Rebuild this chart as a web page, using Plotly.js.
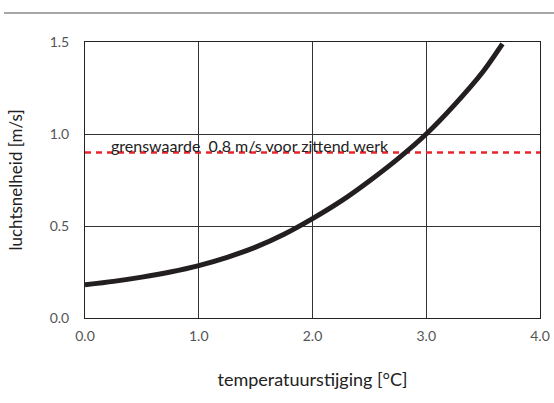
<!DOCTYPE html>
<html>
<head>
<meta charset="utf-8">
<script src="https://cdn.plot.ly/plotly-3.0.1.min.js"></script>
<style>html,body{margin:0;padding:0;background:#fff;}#chart{width:554px;height:403px;}</style>
</head>
<body>
<div id="chart"></div>
<script>
// Temperature rise [°C] vs air velocity [m/s]
const temperatureRise = [0.0, 0.25, 0.5, 0.75, 1.0, 1.25, 1.5, 1.75, 2.0, 2.25, 2.5, 2.75, 3.0, 3.25, 3.5, 3.67];
const airVelocity     = [0.18, 0.199, 0.222, 0.25, 0.285, 0.33, 0.385, 0.455, 0.54, 0.635, 0.745, 0.865, 1.00, 1.16, 1.34, 1.49];
const limitX = [0, 4];
const limitY = [0.9, 0.9];
const limitLabel = "grenswaarde  0.8 m/s voor zittend werk";
const xTicks = [0, 1, 2, 3, 4];
const xTickText = ["0.0", "1.0", "2.0", "3.0", "4.0"];
const yTicks = [0, 0.5, 1.0, 1.5];
const yTickText = ["0.0", "0.5", "1.0", "1.5"];

const fontFam = "Lato, 'Open Sans', sans-serif";

const traces = [
  {x: limitX, y: limitY, mode: "lines", line: {color: "#e8242c", width: 2.5, dash: "6px,5px"}, hoverinfo: "skip", showlegend: false},
  {x: temperatureRise, y: airVelocity, mode: "lines", line: {color: "#231f20", width: 5, shape: "spline", smoothing: 0.8}, showlegend: false}
];

const layout = {
  width: 554, height: 403,
  margin: {l: 85, r: 14, t: 42, b: 85},
  paper_bgcolor: "#fff", plot_bgcolor: "#fff",
  showlegend: false,
  font: {family: fontFam, color: "#222"},
  xaxis: {
    range: [0, 4], tickvals: xTicks, ticktext: xTickText,
    showgrid: true, gridcolor: "#333", gridwidth: 1,
    showline: true, linecolor: "#222", linewidth: 1, mirror: true,
    zeroline: false, ticks: "", ticklen: 0, ticklabelstandoff: 5,
    tickfont: {size: 14, color: "#555", family: fontFam},
    title: {text: "temperatuurstijging [°C]", font: {size: 18, color: "#222", family: fontFam}, standoff: 30}
  },
  yaxis: {
    range: [0, 1.5], tickvals: yTicks, ticktext: yTickText,
    showgrid: true, gridcolor: "#333", gridwidth: 1,
    showline: true, linecolor: "#222", linewidth: 1, mirror: true,
    zeroline: false, ticks: "", ticklen: 0, ticklabelstandoff: 12,
    tickfont: {size: 14, color: "#555", family: fontFam},
    title: {text: "luchtsnelheid [m/s]", font: {size: 17, color: "#222", family: fontFam}, standoff: 22}
  },
  shapes: [
    {type: "line", xref: "paper", yref: "paper", x0: -0.178, x1: 1.04, y0: 1.105, y1: 1.105, line: {color: "#8a8a8a", width: 1.5}}
  ],
  annotations: [
    {x: 1.45, y: 0.935, xref: "x", yref: "y", text: limitLabel, showarrow: false, font: {size: 16, color: "#222", family: fontFam}}
  ]
};

Plotly.newPlot("chart", traces, layout, {displayModeBar: false, staticPlot: true});
</script>
</body>
</html>
